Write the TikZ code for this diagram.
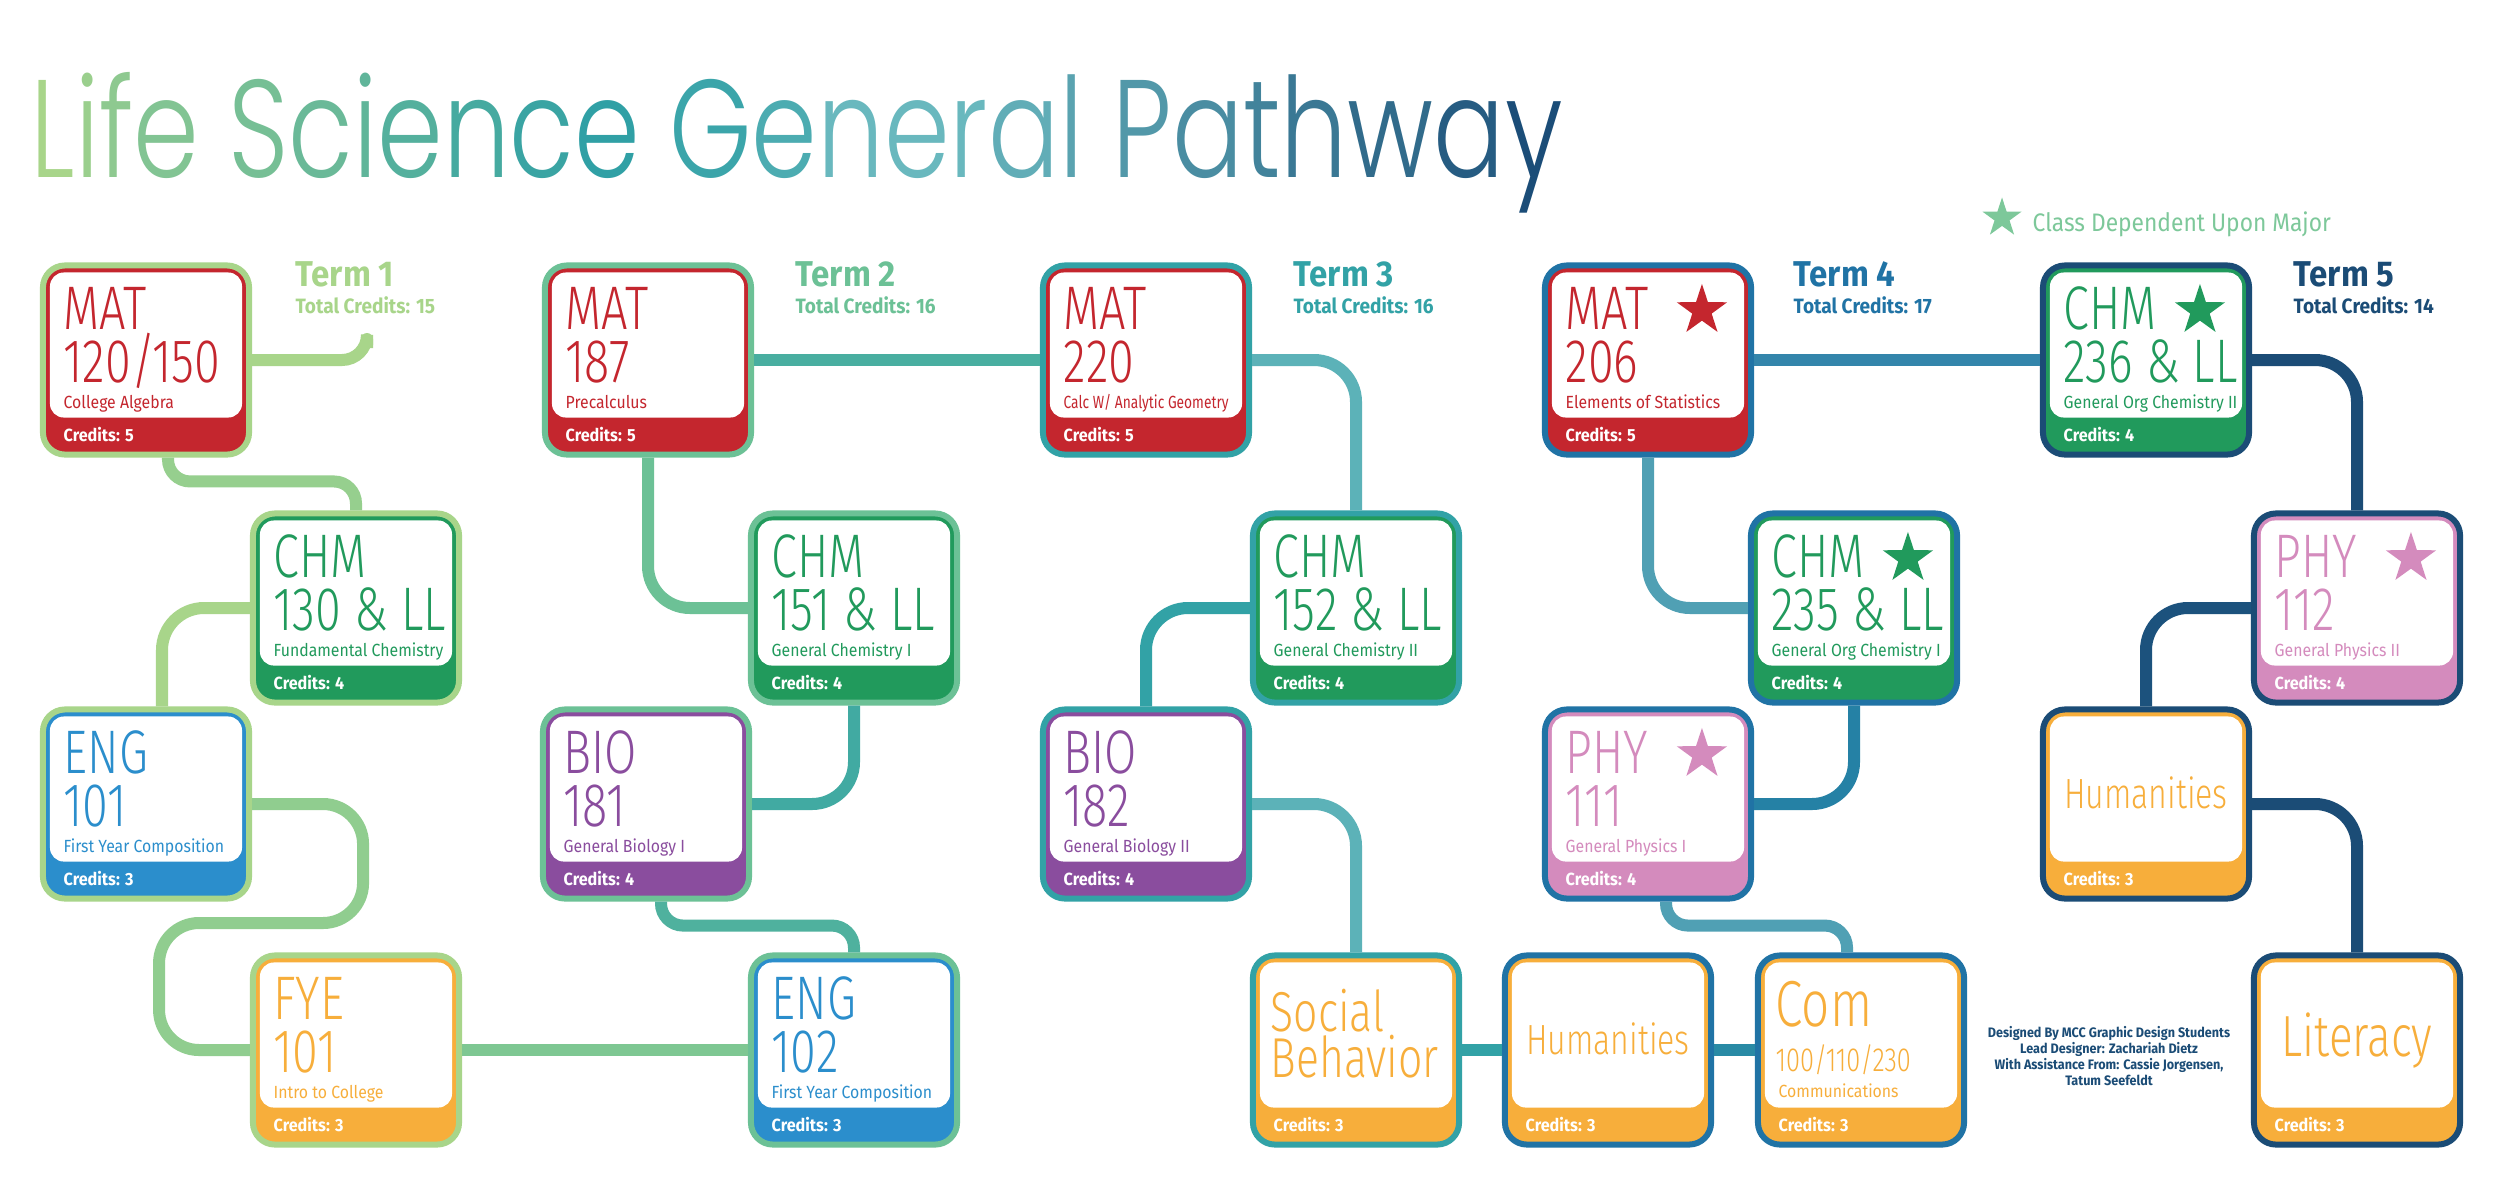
\documentclass[tikz,border=0pt]{standalone}
\usepackage{fontspec}
\usepackage{xcolor}
\usepackage{graphicx}
\usepackage{tikz}
\usetikzlibrary{arrows.meta, shapes.geometric}
\setmainfont{Fira Sans}
\newfontfamily\titlefont{Poppins}[UprightFont=* Light, FakeStretch=0.76]
\newfontfamily\codefont{Fira Sans}[UprightFont=* Light, FakeStretch=0.76]
\newfontfamily\subfont{Fira Sans}[FakeStretch=0.9]
\newfontfamily\boldfont{Fira Sans}[FakeStretch=0.92]
\definecolor{termA}{RGB}{168,213,138}
\definecolor{termB}{RGB}{108,193,150}
\definecolor{termC}{RGB}{50,162,166}
\definecolor{termD}{RGB}{32,115,165}
\definecolor{termE}{RGB}{27,76,118}
\definecolor{linkC}{RGB}{92,178,184}
\definecolor{linkD}{RGB}{80,160,180}
\definecolor{legend}{RGB}{125,200,154}
\definecolor{matred}{RGB}{196,38,46}
\definecolor{chmgreen}{RGB}{33,154,92}
\definecolor{engblue}{RGB}{43,142,204}
\definecolor{fyeorange}{RGB}{247,174,59}
\definecolor{biopurple}{RGB}{138,77,158}
\definecolor{phypink}{RGB}{212,139,189}
\definecolor{gA}{RGB}{168,213,138}
\definecolor{gB}{RGB}{48,160,165}
\definecolor{gC}{RGB}{105,184,190}
\definecolor{gD}{RGB}{27,77,120}
\newcommand{\gradl}[2]{\textcolor{#1}{#2}}
% #1 name, #2 centre, #3 term colour, #4 course colour, #5 code, #6 number, #7 title, #8 credits
\newcommand{\course}[8]{%
  \node[card, draw=#3, fill=#4] (#1) at (#2) {};
  \node[codetxt, text=#4] (#1-a) at ([shift={(23,67)}]#1.north west) {#5};
  \node[codetxt, text=#4] (#1-b) at ([shift={(23,120)}]#1.north west) {#6};
  \node[subtxt, text=#4] (#1-c) at ([shift={(23,146)}]#1.north west) {#7};
  \node[credtxt] (#1-d) at ([shift={(23,179)}]#1.north west) {Credits: #8};
}

\begin{document}
\begin{tikzpicture}[
  x=0.01cm, y=-0.01cm,
  card/.style={
    rectangle, rounded corners=0.22cm, line width=0.06cm,
    minimum width=2.06cm, minimum height=1.89cm, inner sep=0pt,
    path picture={\fill[white, rounded corners=0.14cm]
      ([shift={(7,7)}]path picture bounding box.north west) rectangle
      ([shift={(-7,-37)}]path picture bounding box.south east);}
  },
  codetxt/.style={anchor=base west, inner sep=0pt, text height=0.4cm, text depth=0pt, font=\codefont\fontsize{17.5}{18}\selectfont},
  subtxt/.style={anchor=base west, inner sep=0pt, font=\subfont\fontsize{5}{6}\selectfont},
  credtxt/.style={anchor=base west, inner sep=0pt, text=white, font=\boldfont\bfseries\fontsize{5}{6}\selectfont},
  bigtxt/.style={inner sep=0pt, text height=0.38cm, text depth=0pt, text=fyeorange, font=\codefont\fontsize{16}{17}\selectfont},
  termtxt/.style={anchor=base west, inner sep=0pt, font=\boldfont\bfseries\fontsize{10.2}{11}\selectfont},
  totaltxt/.style={anchor=base west, inner sep=0pt, font=\boldfont\bfseries\fontsize{5.9}{6.5}\selectfont},
  starmark/.style={star, star points=5, star point ratio=2.6, minimum size=0.53cm, inner sep=0pt},
  link/.style={line width=0.12cm, rounded corners=0.42cm}
]
  \fill[white] (0,0) rectangle (2500,1184);
  \useasboundingbox (0,0) rectangle (2500,1184);

  % title and legend
  \node[anchor=base west, inner sep=0pt, font=\titlefont\fontsize{39.5}{40}\selectfont] (title) at (30,177) {%
    \gradl{gA}{L}\gradl{gA!88!gB}{i}\gradl{gA!78!gB}{f}\gradl{gA!68!gB}{e} %
    \gradl{gA!58!gB}{S}\gradl{gA!48!gB}{c}\gradl{gA!40!gB}{i}\gradl{gA!30!gB}{e}\gradl{gA!18!gB}{n}\gradl{gA!8!gB}{c}\gradl{gB}{e} %
    \gradl{gB!80!gC}{G}\gradl{gB!50!gC}{e}\gradl{gC}{n}\gradl{gC}{e}\gradl{gC}{r}\gradl{gC!90!gD}{a}\gradl{gC!80!gD}{l} %
    \gradl{gC!70!gD}{P}\gradl{gC!60!gD}{a}\gradl{gC!50!gD}{t}\gradl{gC!40!gD}{h}\gradl{gC!28!gD}{w}\gradl{gC!14!gD}{a}\gradl{gD}{y}};
  \node[starmark, fill=legend, minimum size=0.41cm] (legstar) at (2002,218) {};
  \node[anchor=base west, inner sep=0pt, text=legend, font=\subfont\fontsize{7.2}{8}\selectfont] (legtxt) at (2032,231) {Class Dependent Upon Major};

  % term headings
  \node[termtxt, text=termA] (t1) at (295,286) {Term 1};
  \node[totaltxt, text=termA] (t1c) at (295,313) {Total Credits: 15};
  \node[termtxt, text=termB] (t2) at (795,286) {Term 2};
  \node[totaltxt, text=termB] (t2c) at (795,313) {Total Credits: 16};
  \node[termtxt, text=termC] (t3) at (1293,286) {Term 3};
  \node[totaltxt, text=termC] (t3c) at (1293,313) {Total Credits: 16};
  \node[termtxt, text=termD] (t4) at (1793,286) {Term 4};
  \node[totaltxt, text=termD] (t4c) at (1793,313) {Total Credits: 17};
  \node[termtxt, text=termE] (t5) at (2293,286) {Term 5};
  \node[totaltxt, text=termE] (t5c) at (2293,313) {Total Credits: 14};

  % term 1
  \course{mat120}{146,360}{termA}{matred}{MAT}{120/150}{College Algebra}{5}
  \course{chm130}{356,608}{termA}{chmgreen}{CHM}{130 \& LL}{Fundamental Chemistry}{4}
  \course{eng101}{146,804}{termA}{engblue}{ENG}{101}{First Year Composition}{3}
  \course{fye101}{356,1050}{termA}{fyeorange}{FYE}{101}{Intro to College}{3}
  % term 2
  \course{mat187}{648,360}{termB}{matred}{MAT}{187}{Precalculus}{5}
  \course{chm151}{854,608}{termB}{chmgreen}{CHM}{151 \& LL}{General Chemistry I}{4}
  \course{bio181}{646,804}{termB}{biopurple}{BIO}{181}{General Biology I}{4}
  \course{eng102}{854,1050}{termB}{engblue}{ENG}{102}{First Year Composition}{3}
  % term 3
  \course{mat220}{1146,360}{termC}{matred}{MAT}{220}{\scalebox{0.87}[1]{Calc W/ Analytic Geometry}}{5}
  \course{chm152}{1356,608}{termC}{chmgreen}{CHM}{152 \& LL}{General Chemistry II}{4}
  \course{bio182}{1146,804}{termC}{biopurple}{BIO}{182}{General Biology II}{4}
  \node[card, draw=termC, fill=fyeorange] (social) at (1356,1050) {};
  \node[bigtxt, anchor=base west] (social-a) at ([shift={(20,79)}]social.north west) {Social};
  \node[bigtxt, anchor=base west] (social-b) at ([shift={(20,125)}]social.north west) {Behavior};
  \node[credtxt] (social-d) at ([shift={(23,179)}]social.north west) {Credits: 3};
  % term 4
  \course{mat206}{1648,360}{termD}{matred}{MAT}{206}{Elements of Statistics}{5}
  \course{chm235}{1854,608}{termD}{chmgreen}{CHM}{235 \& LL}{General Org Chemistry I}{4}
  \course{phy111}{1648,804}{termD}{phypink}{PHY}{111}{General Physics I}{4}
  \node[card, draw=termD, fill=fyeorange] (hum4) at (1608,1050) {};
  \node[bigtxt, anchor=base, font=\codefont\fontsize{12}{13}\selectfont] (hum4-a) at ([shift={(0,102)}]hum4.north) {Humanities};
  \node[credtxt] (hum4-d) at ([shift={(23,179)}]hum4.north west) {Credits: 3};
  \node[card, draw=termD, fill=fyeorange] (com) at (1861,1050) {};
  \node[bigtxt, anchor=base west, font=\codefont\fontsize{18.5}{19}\selectfont] (com-a) at ([shift={(20,74)}]com.north west) {Com};
  \node[bigtxt, anchor=base west, text height=0.2cm, font=\codefont\fontsize{9.5}{10}\selectfont] (com-b) at ([shift={(20,119)}]com.north west) {100/110/230};
  \node[subtxt, text=fyeorange] (com-c) at ([shift={(23,145)}]com.north west) {Communications};
  \node[credtxt] (com-d) at ([shift={(23,179)}]com.north west) {Credits: 3};
  % term 5
  \course{chm236}{2146,360}{termE}{chmgreen}{CHM}{236 \& LL}{General Org Chemistry II}{4}
  \course{phy112}{2357,608}{termE}{phypink}{PHY}{112}{General Physics II}{4}
  \node[card, draw=termE, fill=fyeorange] (hum5) at (2146,804) {};
  \node[bigtxt, anchor=base, font=\codefont\fontsize{12}{13}\selectfont] (hum5-a) at ([shift={(0,102)}]hum5.north) {Humanities};
  \node[credtxt] (hum5-d) at ([shift={(23,179)}]hum5.north west) {Credits: 3};
  \node[card, draw=termE, fill=fyeorange] (lit) at (2357,1050) {};
  \node[bigtxt, anchor=base, font=\codefont\fontsize{16.5}{17}\selectfont] (lit-a) at ([shift={(0,104)}]lit.north) {Literacy};
  \node[credtxt] (lit-d) at ([shift={(23,179)}]lit.north west) {Credits: 3};

  % stars
  \node[starmark, fill=matred] (mat206-s) at ([shift={(160,48)}]mat206.north west) {};
  \node[starmark, fill=chmgreen] (chm235-s) at ([shift={(160,48)}]chm235.north west) {};
  \node[starmark, fill=phypink] (phy111-s) at ([shift={(160,48)}]phy111.north west) {};
  \node[starmark, fill=chmgreen] (chm236-s) at ([shift={(160,48)}]chm236.north west) {};
  \node[starmark, fill=phypink] (phy112-s) at ([shift={(160,48)}]phy112.north west) {};

  % connectors
  \coordinate (hook) at (367,333);
  \draw[link, termA, rounded corners=0.25cm, -{Round Cap}] (mat120.east) -| (hook);
  \draw[link, termA!70!termB, rounded corners=0.22cm] ([shift={(22,0)}]mat120.south) |- ([shift={(0,-29)}]chm130.north) -- (chm130.north);
  \draw[link, termA] (chm130.west) -| ([shift={(16,0)}]eng101.north);
  \draw[link, termA!60!termB, rounded corners=0.4cm] (eng101.east) -- ++(111,0) -- ++(0,119) -- ++(-204,0) |- (fye101.west);
  \draw[link, termB!70!termA] (fye101.east) -- (eng102.west);
  \draw[link, termC!60!termB] (mat187.east) -- (mat220.west);
  \draw[link, termB] (mat187.south) |- (chm151.west);
  \draw[link, termC!75!termB] (chm151.south) |- (bio181.east);
  \draw[link, termB!50!termC, rounded corners=0.22cm] ([shift={(15,0)}]bio181.south) -- ++(0,24) -| (eng102.north);
  \draw[link, linkC] (mat220.east) -| (chm152.north);
  \draw[link, termC] (chm152.west) -| (bio182.north);
  \draw[link, linkC] (bio182.east) -| (social.north);
  \draw[link, termC] (social.east) -- (hum4.west);
  \draw[link, termC!50!termD] (hum4.east) -- (com.west);
  \draw[link, linkD] (mat206.south) |- (chm235.west);
  \draw[link, termD!70!termC] (chm235.south) |- (phy111.east);
  \draw[link, linkD, rounded corners=0.22cm] ([shift={(18,0)}]phy111.south) -- ++(0,24) -| ([shift={(-14,0)}]com.north);
  \draw[link, termD!60!linkD] (mat206.east) -- (chm236.west);
  \draw[link, termE] (chm236.east) -| (phy112.north);
  \draw[link, termE!85!termD] (phy112.west) -| (hum5.north);
  \draw[link, termE] (hum5.east) -| (lit.north);

  % footer
  \node[align=center, inner sep=0pt, text=termE, font=\boldfont\bfseries\fontsize{3.9}{4.6}\selectfont] (credits) at (2109,1056)
    {Designed By MCC Graphic Design Students\\Lead Designer: Zachariah Dietz\\With Assistance From: Cassie Jorgensen,\\Tatum Seefeldt};
\end{tikzpicture}
\end{document}
